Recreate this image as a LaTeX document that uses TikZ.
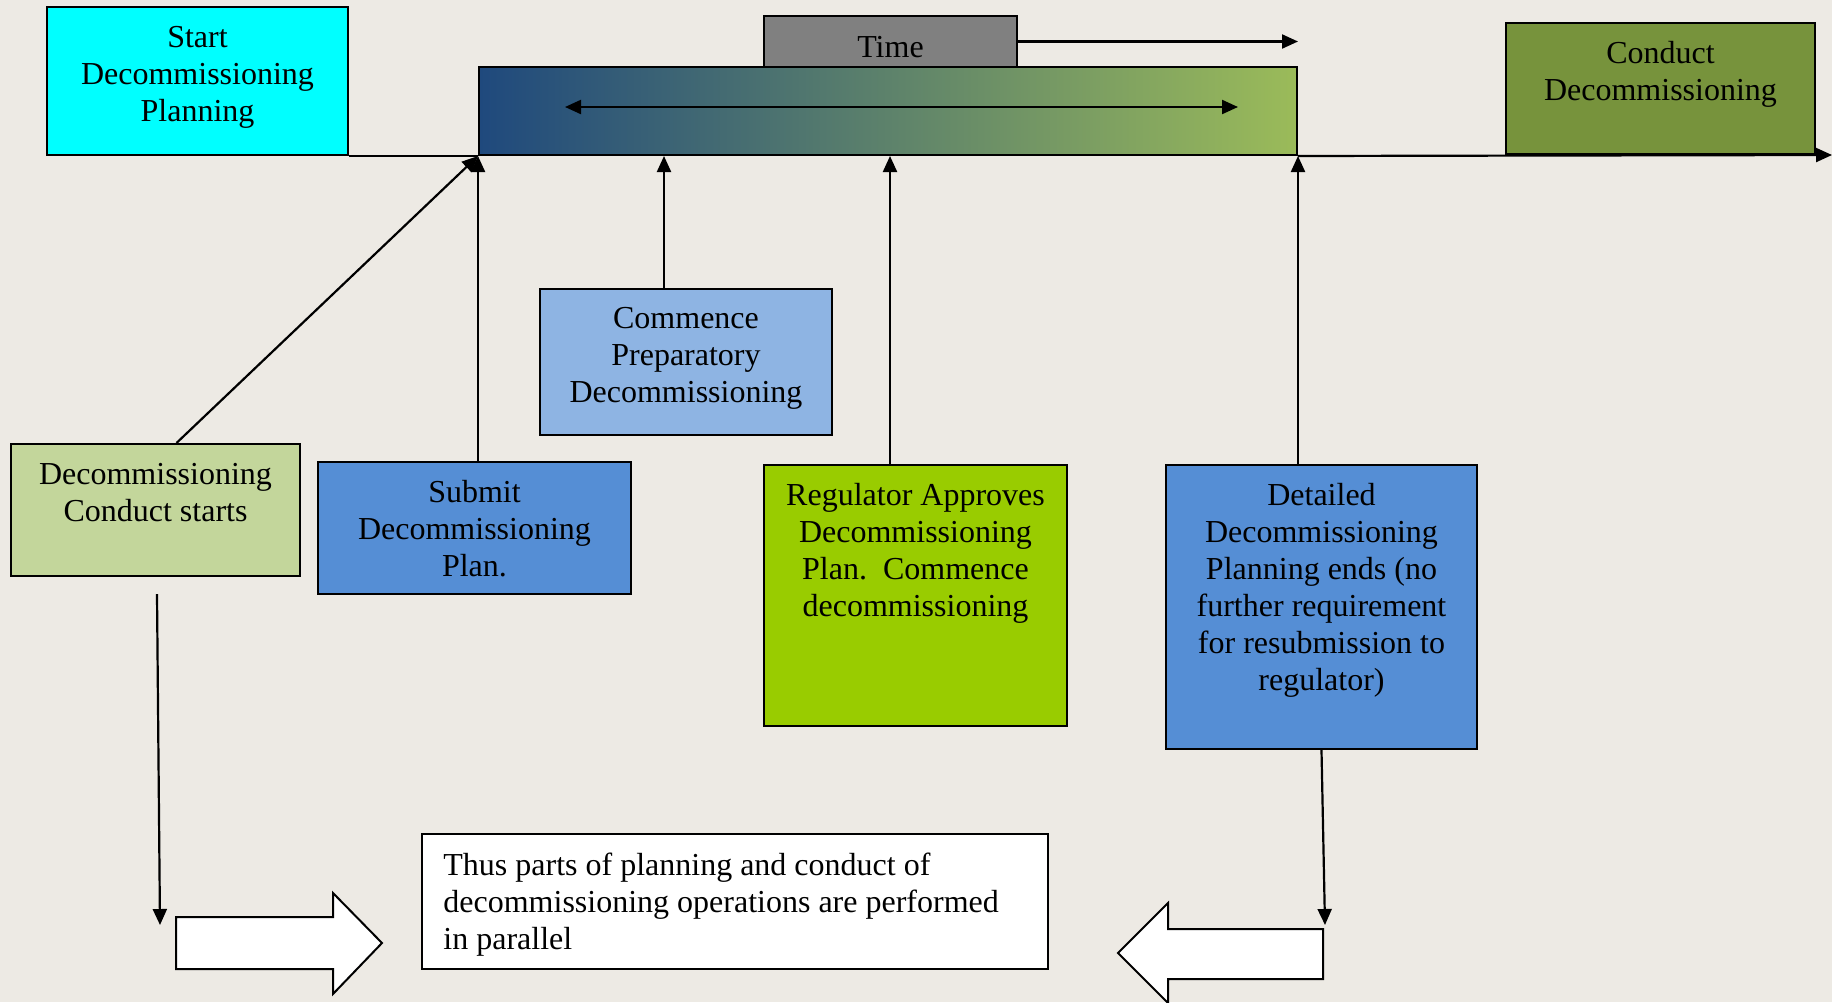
\documentclass[tikz,border=0pt]{standalone}
\usepackage{fontspec}
\setmainfont{Liberation Serif}
\usetikzlibrary{positioning,fit,arrows.meta}

\definecolor{bgpaper}{RGB}{237,234,228}
\definecolor{startcyan}{RGB}{0,255,255}
\definecolor{timegray}{RGB}{128,128,128}
\definecolor{barblue}{RGB}{31,73,125}
\definecolor{bargreen}{RGB}{155,187,89}
\definecolor{conductgreen}{RGB}{119,147,60}
\definecolor{palegreen}{RGB}{195,214,155}
\definecolor{midblue}{RGB}{85,142,213}
\definecolor{lightblue}{RGB}{142,180,227}
\definecolor{limegreen}{RGB}{153,204,0}

\tikzstyle{box}=[draw, line width=1pt, inner sep=0pt]
\tikzstyle{txt}=[inner sep=0pt, font=\fontsize{16}{18.5}\selectfont, align=center]
\tikzstyle{edge}=[draw, -{Triangle[length=8pt,width=7pt]}, line width=1.1pt]
\tikzstyle{blockarrow}=[draw, fill=white, line width=1pt]

\begin{document}
\begin{tikzpicture}[x=0.5pt, y=-0.5pt]
	\fill[bgpaper] (0,0) rectangle (1832,1002);
	\useasboundingbox (0,0) rectangle (1832,1002);

	% top row
	\node[box, fill=startcyan, fit={(47,7) (348,155)}] (start) {};
	\node[txt] (startT) at ([yshift=1.6pt]start.center) {Start\\Decommissioning\\Planning};
	\node[box, fill=timegray, fit={(764,16) (1017,67)}] (time) {};
	\node[txt] (timeT) at ([yshift=-2.75pt]time.center) {Time};
	\node[box, left color=barblue, right color=bargreen, fit={(479,67) (1297,155)}] (bar) {};
	\node[box, fill=conductgreen, fit={(1506,23) (1815,154)}] (conduct) {};
	\node[txt, below=9.2pt of conduct.north] (conductT) {Conduct\\Decommissioning};

	% milestones
	\node[box, fill=palegreen, fit={(11,444) (300,576)}] (dcs) {};
	\node[txt, below=9.8pt of dcs.north] (dcsT) {Decommissioning\\Conduct starts};
	\node[box, fill=midblue, fit={(318,462) (631,594)}] (submit) {};
	\node[txt] (submitT) at ([yshift=-0.5pt]submit.center) {Submit\\Decommissioning\\Plan.};
	\node[box, fill=lightblue, fit={(540,289) (832,435)}] (commence) {};
	\node[txt] (commenceT) at ([yshift=1.9pt]commence.center) {Commence\\Preparatory\\Decommissioning};
	\node[box, fill=limegreen, fit={(764,465) (1067,726)}] (regulator) {};
	\node[txt, below=9.3pt of regulator.north] (regulatorT) {Regulator Approves\\Decommissioning\\Plan.~~Commence\\decommissioning};
	\node[box, fill=midblue, fit={(1166,465) (1477,749)}] (detailed) {};
	\node[txt, below=9.3pt of detailed.north] (detailedT) {Detailed\\Decommissioning\\Planning ends (no\\further requirement\\for resubmission to\\regulator)};

	% bottom note
	\node[box, fill=white, fit={(422,834) (1048,969)}] (note) {};
	\node[txt, align=left, right=11pt of note.west, yshift=-1.75pt] (noteT) {Thus parts of planning and conduct of\\decommissioning operations are performed\\in parallel};

	\coordinate (dl) at (565,107);
	\coordinate (dr) at (1238,107);
	\coordinate (tlend) at (1832,155);
	\coordinate (ldtop) at (157,594);
	\coordinate (ldend) at (160,925);
	\coordinate (rdend) at (1325,925);

	% time line
	\draw[line width=1.1pt] (start.south east) -- (bar.south west);
	\path[edge] (bar.south east) -- (tlend);
	\path[edge] (time.east) -- (time.east -| bar.east);
	\path[edge, {Triangle[length=8pt,width=7pt]}-{Triangle[length=8pt,width=7pt]}] (dl) -- (dr);

	\path[edge] ([xshift=10.5pt]dcs.north) -- (bar.south west);
	\path[edge] (submit.north -| bar.south west) -- (bar.south west);
	\path[edge] ([xshift=-11pt]commence.north) -- ([xshift=-11pt]commence.north |- bar.south);
	\path[edge] ([xshift=-12.75pt]regulator.north) -- ([xshift=-12.75pt]regulator.north |- bar.south);
	\path[edge] (detailed.north -| bar.south east) -- (bar.south east);

	\path[edge] (ldtop) -- (ldend);
	\path[edge] (detailed.south) -- (rdend);

	% block arrows
	\draw[blockarrow] (176,917) -- (333,917) -- (333,893) -- (382,943) -- (333,994) -- (333,969) -- (176,969) -- cycle;
	\draw[blockarrow] (1323,929) -- (1168,929) -- (1168,903) -- (1118,953) -- (1168,1003) -- (1168,979) -- (1323,979) -- cycle;
\end{tikzpicture}
\end{document}
